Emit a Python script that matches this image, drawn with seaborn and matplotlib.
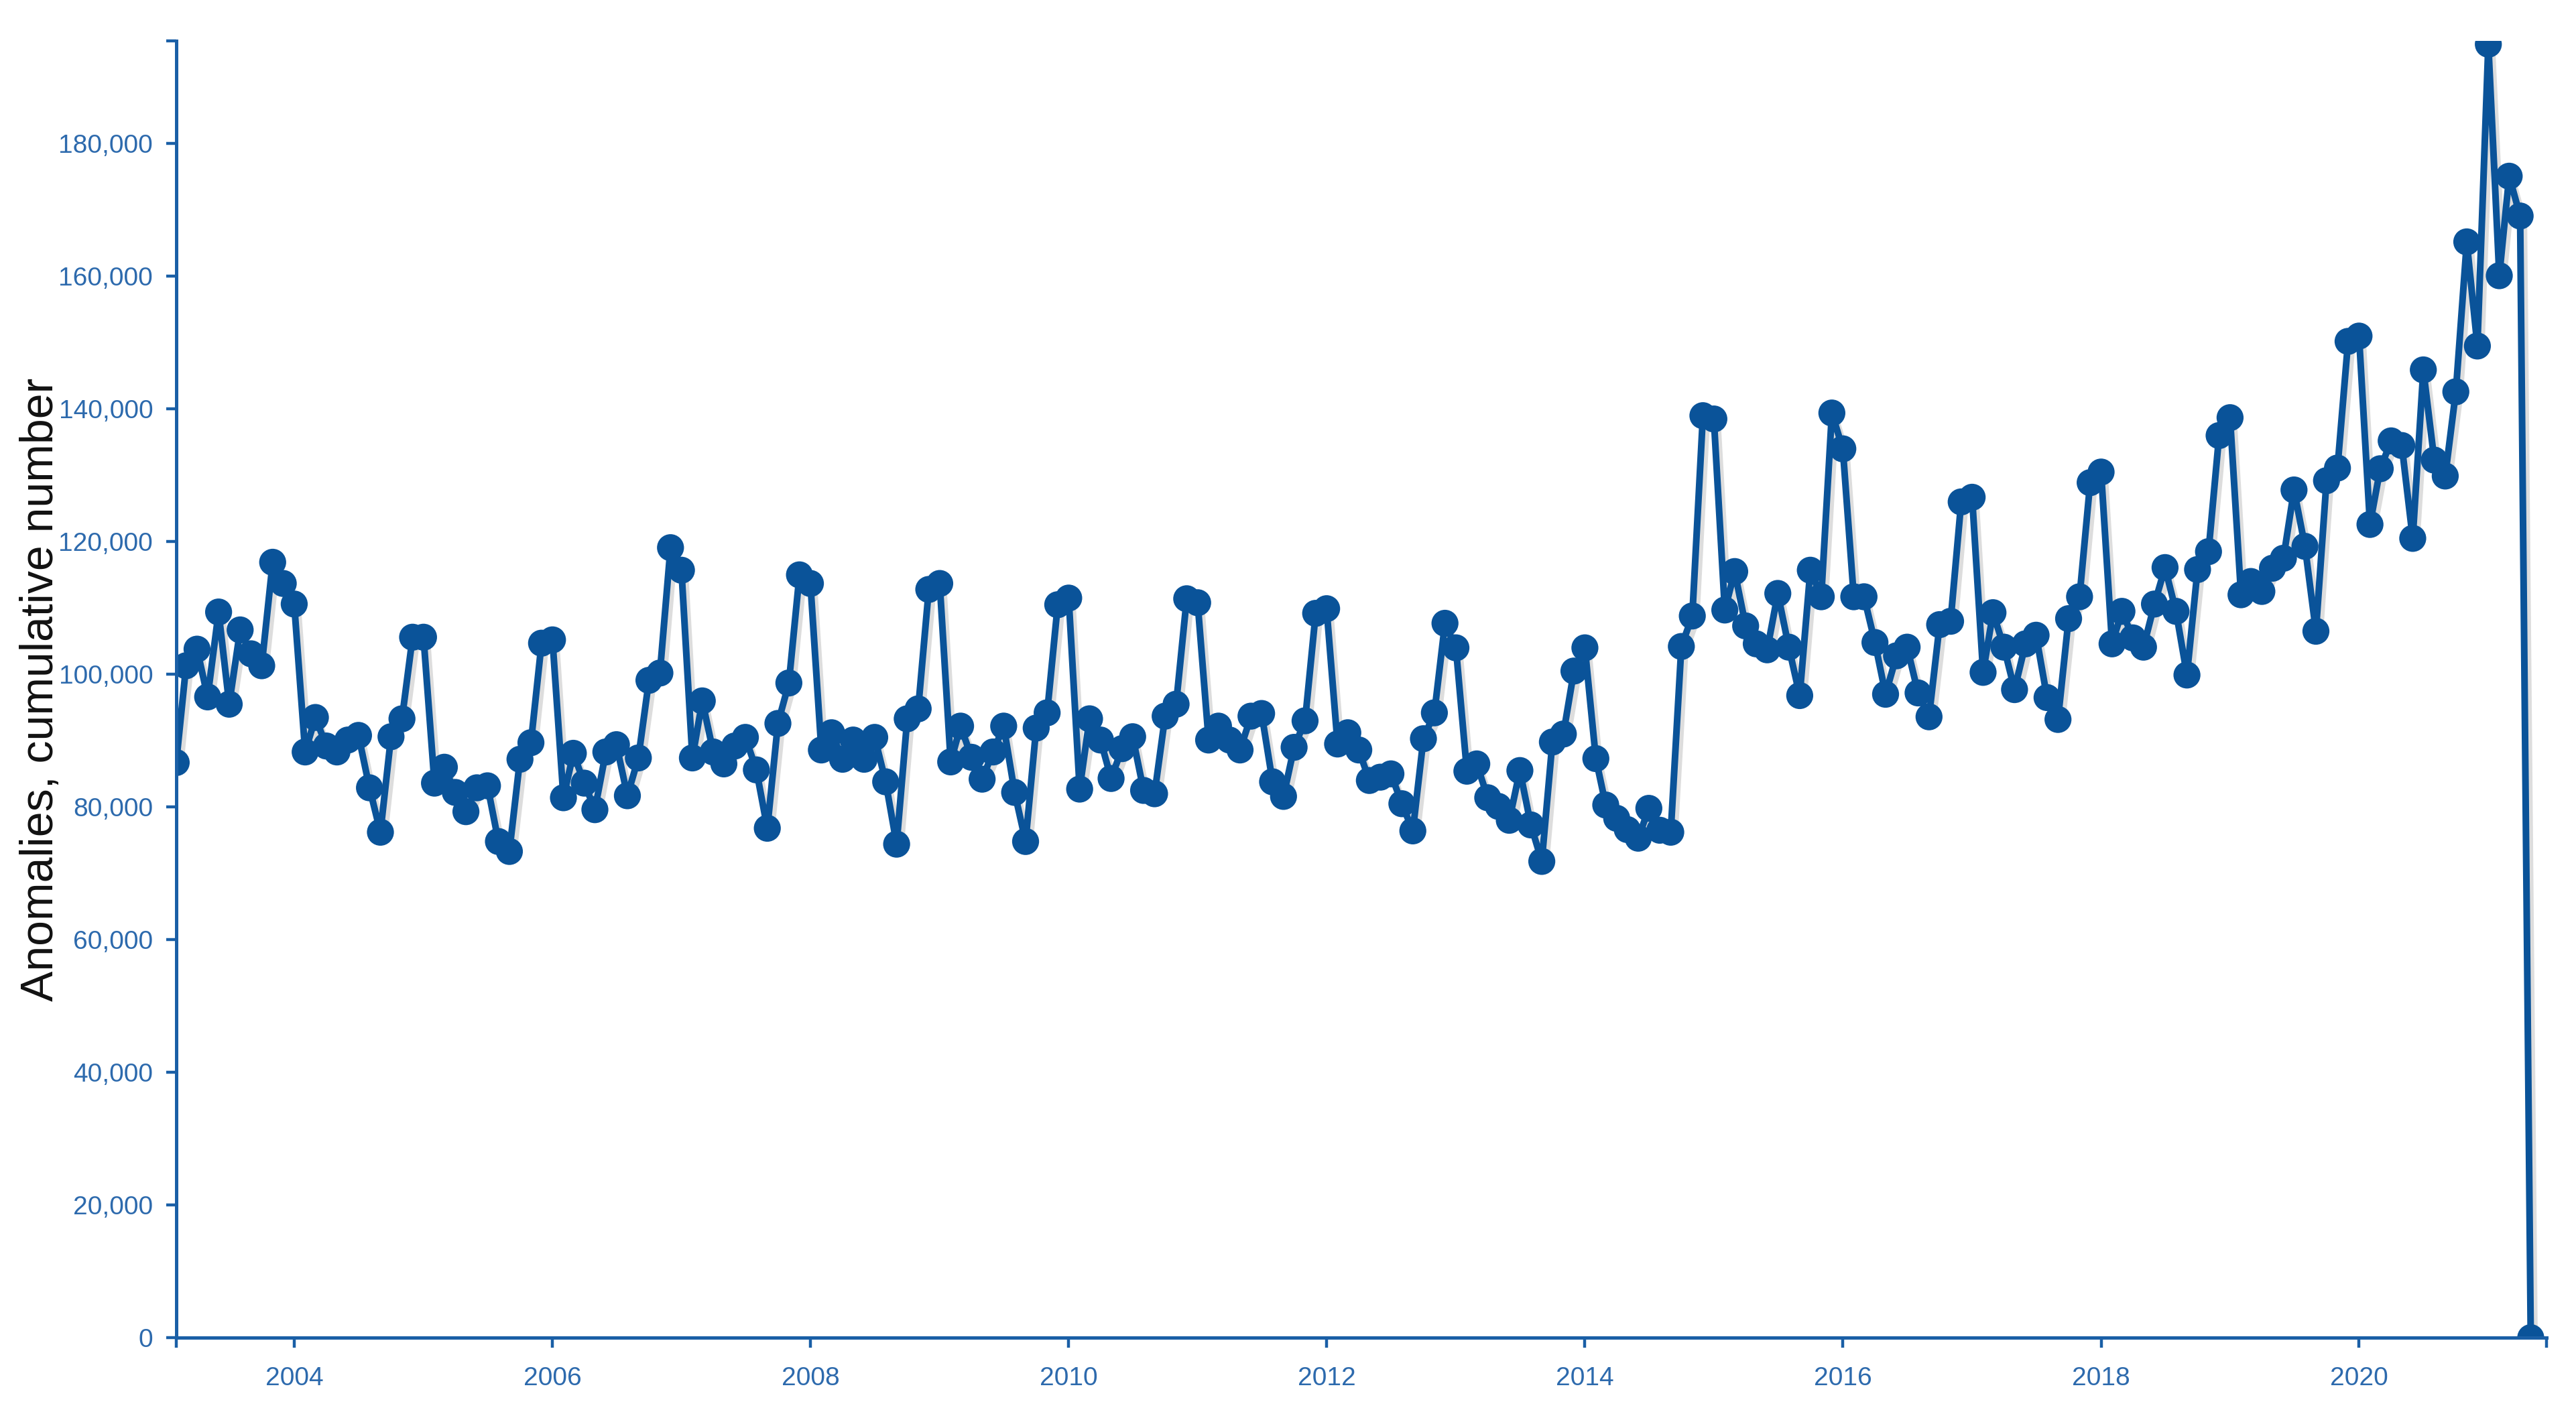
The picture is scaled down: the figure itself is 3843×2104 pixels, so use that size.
import pandas as pd
import numpy as np
import matplotlib
matplotlib.use("Agg")
import matplotlib.pyplot as plt
import matplotlib.patheffects as pe
from matplotlib.ticker import FuncFormatter
import seaborn as sns

# =====================================================
# DATA  (monthly anomalies, thousands; series starts Feb 2003)
# =====================================================

start_month = "2003-02-01"

y2003 = [86.7, 101.3, 103.8, 96.6, 109.4, 95.5, 106.7, 103.1, 101.3, 116.9, 113.7]
y2004 = [110.6, 88.3, 93.5, 89.2, 88.3, 90.1, 90.8, 82.9, 76.2, 90.6, 93.3, 105.6]
y2005 = [105.6, 83.6, 86.0, 82.2, 79.3, 82.9, 83.2, 74.8, 73.3, 87.2, 89.7, 104.7]
y2006 = [105.2, 81.4, 88.1, 83.6, 79.6, 88.3, 89.4, 81.7, 87.4, 99.1, 100.2, 119.1]
y2007 = [115.7, 87.4, 96.0, 88.3, 86.5, 89.2, 90.5, 85.6, 76.8, 92.6, 98.7, 115.0]
y2008 = [113.7, 88.6, 91.2, 87.2, 90.1, 87.2, 90.5, 83.8, 74.4, 93.3, 94.8, 112.8]
y2009 = [113.7, 86.8, 92.2, 87.5, 84.2, 88.3, 92.2, 82.2, 74.8, 91.9, 94.2, 110.5]
y2010 = [111.5, 82.7, 93.3, 90.1, 84.3, 88.8, 90.6, 82.5, 82.0, 93.7, 95.5, 111.4]
y2011 = [110.8, 90.1, 92.2, 90.1, 88.6, 93.7, 94.1, 83.8, 81.6, 89.0, 93.0, 109.2]
y2012 = [109.9, 89.5, 91.2, 88.6, 84.0, 84.5, 85.0, 80.5, 76.4, 90.3, 94.2, 107.7]
y2013 = [104.0, 85.4, 86.5, 81.4, 80.1, 78.0, 85.5, 77.3, 71.8, 89.8, 91.0, 100.5]
y2014 = [104.0, 87.3, 80.3, 78.3, 76.6, 75.3, 79.8, 76.5, 76.2, 104.2, 108.8, 139.0]
y2015 = [138.5, 109.7, 115.5, 107.3, 104.6, 103.7, 112.2, 104.1, 96.8, 115.7, 111.7, 139.4]
y2016 = [134.0, 111.7, 111.7, 104.8, 97.0, 102.8, 104.1, 97.2, 93.6, 107.5, 108.0, 126.0]
y2017 = [126.7, 100.3, 109.3, 104.1, 97.7, 104.6, 105.9, 96.5, 93.2, 108.4, 111.7, 128.9]
y2018 = [130.5, 104.6, 109.5, 105.5, 104.1, 110.6, 116.1, 109.5, 99.9, 115.8, 118.5, 136.0]
y2019 = [138.7, 112.0, 114.0, 112.5, 116.0, 117.5, 127.8, 119.3, 106.5, 129.2, 131.1, 150.2]
y2020 = [151.0, 122.6, 131.0, 135.2, 134.5, 120.5, 145.9, 132.3, 129.9, 142.6, 165.2, 149.5]
y2021 = [195.0, 160.1, 175.1, 169.1, 0.0]

year_ticks = [2004, 2006, 2008, 2010, 2012, 2014, 2016, 2018, 2020]
y_ticks = [0, 20000, 40000, 60000, 80000, 100000, 120000, 140000, 160000, 180000]

# =====================================================
# BUILD FRAME
# =====================================================

values = (y2003 + y2004 + y2005 + y2006 + y2007 + y2008 + y2009 + y2010
          + y2011 + y2012 + y2013 + y2014 + y2015 + y2016 + y2017
          + y2018 + y2019 + y2020 + y2021)

df = pd.DataFrame({
    "month": pd.date_range(start_month, periods=len(values), freq="MS"),
    "anomalies": np.array(values) * 1000
})

# =====================================================
# STYLE
# =====================================================

line_color = "#0a5399"
axis_color = "#1a5fa6"
label_color = "#2d6aad"

sns.set_style("ticks")
plt.rcParams["font.family"] = ["Liberation Sans", "DejaVu Sans"]

fig = plt.figure(figsize=(19.215, 10.52), dpi=200)
ax = fig.add_axes([0.0684, 0.0513, 0.9202, 0.9197])

sns.lineplot(
    data=df,
    x="month",
    y="anomalies",
    color=line_color,
    linewidth=3.6,
    marker="o",
    markersize=14.5,
    markeredgewidth=0,
    markeredgecolor=line_color,
    path_effects=[
        pe.SimpleLineShadow(offset=(2, -3), shadow_color="#555555", alpha=0.2),
        pe.Normal()
    ],
    ax=ax
)

# =====================================================
# AXES
# =====================================================

x_left = pd.Timestamp(start_month)
x_right = pd.Timestamp("2021-06-15")
ax.set_xlim(x_left, x_right)
ax.set_ylim(0, 195500)

ax.set_xticks([pd.Timestamp(f"{y}-01-01") for y in year_ticks])
ax.set_xticklabels([str(y) for y in year_ticks])
ax.set_xticks([x_left, x_right], minor=True)

ax.set_yticks(y_ticks)
ax.yaxis.set_major_formatter(FuncFormatter(lambda v, p: f"{int(v):,}"))
ax.set_yticks([195500], minor=True)

ax.tick_params(which="both", direction="out", length=5.5, width=1.6,
               color=axis_color, labelcolor=label_color, labelsize=14)
ax.tick_params(axis="x", pad=10)
ax.tick_params(axis="y", pad=7)

for side in ["top", "right"]:
    ax.spines[side].set_visible(False)
for side in ["left", "bottom"]:
    ax.spines[side].set_color(axis_color)
    ax.spines[side].set_linewidth(1.8)

ax.set_xlabel("")
ax.set_ylabel("Anomalies, cumulative number", fontsize=24.5, color="#111111")
ax.yaxis.set_label_coords(-0.048, 0.5)

fig.savefig("out.png", dpi=200, facecolor="white")
